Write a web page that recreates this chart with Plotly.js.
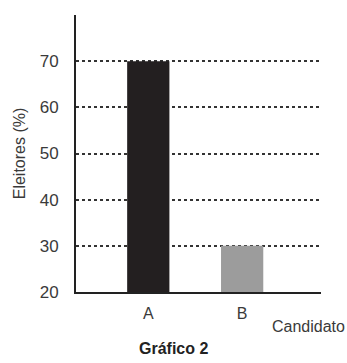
<!DOCTYPE html>
<html><head><meta charset="utf-8">
<script src="https://cdn.plot.ly/plotly-3.0.1.min.js"></script>
<style>html,body{margin:0;padding:0;background:#fff}#c{width:347px;height:363px}</style>
</head><body><div id="c"></div>
<script>
const candidates = ['A', 'B'];
const voters = [70, 30];
const barColors = ['#231f20', '#9c9c9c'];
const yTicks = [20, 30, 40, 50, 60, 70];

const F = '"Liberation Sans Narrow", "Arial Narrow", Arial, sans-serif';
const data = [{
  type: 'bar', x: candidates, y: voters,
  marker: {color: barColors, line: {width: 0}},
  width: 0.45, hoverinfo: 'none', cliponaxis: true
}];
const layout = {
  width: 347, height: 363,
  margin: {l: 76, r: 26, t: 15, b: 71},
  paper_bgcolor: '#fff', plot_bgcolor: '#fff',
  showlegend: false,
  font: {family: F, color: '#3a3a3a', size: 16},
  xaxis: {
    type: 'category', range: [-0.77, 1.84],
    showline: true, linecolor: '#222', linewidth: 2,
    showgrid: false, zeroline: false, ticks: '',
    tickfont: {family: F, size: 16, color: '#3a3a3a'},
    ticklabelstandoff: 6
  },
  yaxis: {
    range: [20, 80], tickvals: yTicks, ticktext: yTicks.map(String),
    showline: true, linecolor: '#222', linewidth: 2,
    showgrid: true, gridcolor: '#333', gridwidth: 2, griddash: 'dot',
    zeroline: false, ticks: '',
    tickfont: {family: F, size: 17, color: '#3a3a3a'},
    ticklabelstandoff: 12,
    title: {text: 'Eleitores (%)', font: {family: F, size: 16, color: '#3a3a3a'}, standoff: 10}
  },
  annotations: [
    {text: 'Candidato', xref: 'paper', yref: 'paper', x: 1.105, y: -0.085, xanchor: 'right', yanchor: 'top', showarrow: false, font: {family: F, size: 16, color: '#3a3a3a'}},
    {text: '<b>Gráfico 2</b>', xref: 'paper', yref: 'paper', x: 0.397, y: -0.165, xanchor: 'center', yanchor: 'top', showarrow: false, font: {family: F, size: 16, color: '#222'}}
  ]
};
Plotly.newPlot('c', data, layout, {displayModeBar: false, staticPlot: true});
</script></body></html>
